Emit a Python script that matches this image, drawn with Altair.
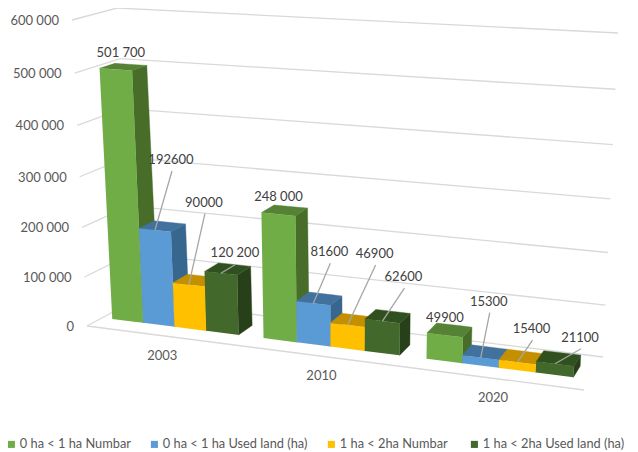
import altair as alt
import pandas as pd

# ---- values
years = ["2003", "2010", "2020"]
series = ["0 ha < 1 ha Numbar", "0 ha < 1 ha Used land (ha)", "1 ha < 2ha  Numbar", "1 ha < 2ha Used land (ha)"]
v_small_number = [501700, 248000, 49900]
v_small_land = [192600, 81600, 15300]
v_mid_number = [90000, 46900, 15400]
v_mid_land = [120200, 62600, 21100]
label_small_number = ["501 700", "248 000", "49900"]
label_small_land = ["192600", "81600", "15300"]
label_mid_number = ["90000", "46900", "15400"]
label_mid_land = ["120 200", "62600", "21100"]
ticks = [0, 100000, 200000, 300000, 400000, 500000, 600000]
tick_labels = ["0", "100 000", "200 000", "300 000", "400 000", "500 000", "600 000"]

# ---- styling
front_colors = ["#70AD47", "#5B9BD5", "#FFC000", "#43682B"]
top_colors = ["#568235", "#41719C", "#C49000", "#31501F"]
side_colors = ["#486D28", "#37668F", "#A67C00", "#27401A"]
GRID = "#D9D9D9"
TEXT = "#595959"
FONT = "Lato"

# manual label placement, px from each bar's front-top centre: series -> year
label_dx = [[5, 0, 0], [16, 16, 8], [15, 27, 14], [14, 21, 25]]
label_dy = [[-16, -17, -17], [-70, -51, -56], [-82, -71, -33], [-20, -44, -26]]
has_leader = [False, True, True, True]

# ---- 3-D box of the plot: corners on the page (u along years, v up, w into the page)
C = {(0, 0, 0): (87, 326), (1, 0, 0): (584, 390), (0, 0, 1): (135, 300), (1, 0, 1): (603, 357),
     (0, 1, 0): (72, 20), (1, 1, 0): (601, 50), (0, 1, 1): (117, 8), (1, 1, 1): (618, 33)}
KU, KV = 1.12, 1.05
VMAX = 600000
W0, W1 = 0.32, 0.66
GAP = 0.08
U_SHIFT = -0.004


def persp(t, k):
    return t / (t + k * (1 - t))


def project(u, value, w):
    a, b = persp(u, KU), persp(value / VMAX, KV)
    out = [0.0, 0.0]
    for (cu, cv, cw), p in C.items():
        f = (a if cu else 1 - a) * (b if cv else 1 - b) * (w if cw else 1 - w)
        out[0] += f * p[0]
        out[1] += f * p[1]
    return tuple(out)


def polygon_rows(points, pid, **extra):
    """Turn a convex polygon into x / y / y2 rows for an area mark, sorted by x."""
    rows = []
    n = len(points)
    for x in sorted({p[0] for p in points}):
        ys = []
        for i in range(n):
            (x1, y1), (x2, y2) = points[i], points[(i + 1) % n]
            if min(x1, x2) <= x <= max(x1, x2):
                if x1 == x2:
                    ys += [y1, y2]
                else:
                    ys.append(y1 + (y2 - y1) * (x - x1) / (x2 - x1))
        rows.append(dict(x=x, y=min(ys), y2=max(ys), pid=f"p{pid:03d}", **extra))
    return rows


values = [v_small_number, v_small_land, v_mid_number, v_mid_land]
labels = [label_small_number, label_small_land, label_mid_number, label_mid_land]

back_rows, front_rows, text_rows, leader_rows = [], [], [], []
pid = 0
for c in range(len(years)):
    span = (1 - 2 * GAP) / len(series)
    for s in range(len(series)):
        u0 = (c + GAP + s * span) / len(years) + U_SHIFT
        u1 = (c + GAP + (s + 1) * span) / len(years) + U_SHIFT
        val = values[s][c]
        flb, frb = project(u0, 0, W0), project(u1, 0, W0)
        flt, frt = project(u0, val, W0), project(u1, val, W0)
        brb, brt = project(u1, 0, W1), project(u1, val, W1)
        blt = project(u0, val, W1)
        back_rows += polygon_rows([frb, brb, brt, frt], pid, fill=side_colors[s])
        pid += 1
        back_rows += polygon_rows([flt, frt, brt, blt], pid, fill=top_colors[s])
        pid += 1
        front_rows += polygon_rows([flb, frb, frt, flt], pid, series=series[s])
        pid += 1
        ax, ay = (flt[0] + frt[0]) / 2, (flt[1] + frt[1]) / 2
        lx, ly = ax + label_dx[s][c], ay + label_dy[s][c]
        text_rows.append(dict(x=lx, y=ly, text=labels[s][c]))
        if has_leader[s]:
            leader_rows += [dict(x=ax, y=ay, lid=pid, i=0), dict(x=lx + 1, y=ly + 11, lid=pid, i=1)]

grid_rows = []
lid = 0
for t in ticks:
    for a, b in ((project(0, t, 0), project(0, t, 1)), (project(0, t, 1), project(1, t, 1))):
        grid_rows += [dict(x=a[0], y=a[1], lid=lid, i=0), dict(x=b[0], y=b[1], lid=lid, i=1)]
        lid += 1
a, b = project(0, 0, 0), project(1, 0, 0)
grid_rows += [dict(x=a[0], y=a[1], lid=lid, i=0), dict(x=b[0], y=b[1], lid=lid, i=1)]

tick_rows = []
for t, lab in zip(ticks, tick_labels):
    p = project(0, t, 0)
    tick_rows.append(dict(x=p[0] - 13, y=p[1] + 1, text=lab))

year_rows = []
for c, y in enumerate(years):
    p = project((c + 0.5) / len(years), 0, 0)
    year_rows.append(dict(x=p[0], y=p[1] + 20, text=y))

# ---- scales: page pixels
PW, PH = 622, 444
X = alt.X("x:Q", axis=None, scale=alt.Scale(domain=[8, 8 + PW], nice=False, zero=False))
Y = alt.Y("y:Q", axis=None, stack=None, scale=alt.Scale(domain=[8 + PH, 8], nice=False, zero=False))

grid = alt.Chart(pd.DataFrame(grid_rows)).mark_line(color=GRID, strokeWidth=1.3).encode(
    x=X, y=Y, detail="lid:N", order="i:Q")
back = alt.Chart(pd.DataFrame(back_rows)).mark_area(strokeWidth=0.4).encode(
    x=X, y=Y, y2="y2:Q", detail="pid:N",
    fill=alt.Fill("fill:N", scale=None), stroke=alt.Stroke("fill:N", scale=None))
front = alt.Chart(pd.DataFrame(front_rows)).mark_area().encode(
    x=X, y=Y, y2="y2:Q", detail="pid:N",
    color=alt.Color("series:N", scale=alt.Scale(domain=series, range=front_colors),
                    legend=alt.Legend(title=None, orient="none", legendX=-3, legendY=430,
                                      direction="horizontal", columns=4, gridAlign="none",
                                      symbolType="square", symbolSize=50, symbolStrokeWidth=0,
                                      labelFont=FONT, labelFontSize=12.8, labelColor=TEXT,
                                      labelLimit=220, labelOffset=2, columnPadding=17)))
leaders = alt.Chart(pd.DataFrame(leader_rows)).mark_line(color="#A6A6A6", strokeWidth=1.3).encode(
    x=X, y=Y, detail="lid:N", order="i:Q")
bar_text = alt.Chart(pd.DataFrame(text_rows)).mark_text(
    font=FONT, fontSize=13, color="#404040", align="center", baseline="middle").encode(x=X, y=Y, text="text:N")
tick_text = alt.Chart(pd.DataFrame(tick_rows)).mark_text(
    font=FONT, fontSize=13, color=TEXT, align="right", baseline="middle").encode(x=X, y=Y, text="text:N")
year_text = alt.Chart(pd.DataFrame(year_rows)).mark_text(
    font=FONT, fontSize=13, color=TEXT, align="center", baseline="middle").encode(x=X, y=Y, text="text:N")

chart = alt.layer(grid, back, front, leaders, bar_text, tick_text, year_text).properties(
    width=PW, height=PH, padding=0, autosize=alt.AutoSizeParams(type="none"),
).configure_view(stroke=None).resolve_scale(fill="independent", stroke="independent")

chart.save("out.html", embed_options={"renderer": "svg", "actions": False})
